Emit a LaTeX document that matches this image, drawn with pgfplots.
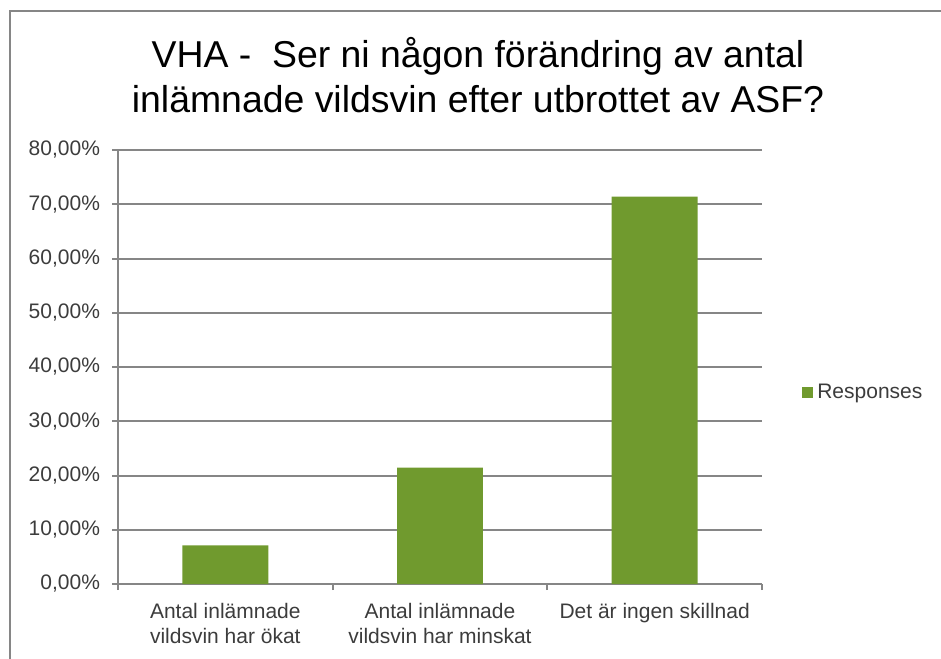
\documentclass[border=0pt]{standalone}
\usepackage{pgfplots}
\pgfplotsset{compat=1.18}
\usepackage{fontspec}
\setmainfont{Liberation Sans}
\definecolor{bargreen}{RGB}{112,154,46}
\definecolor{axisgray}{RGB}{134,134,134}
\definecolor{txtgray}{RGB}{60,60,60}
\begin{document}
\begin{tikzpicture}
\useasboundingbox (0,0) rectangle (470.5pt,329pt);
\draw[axisgray,line width=1pt] (5pt,-5pt) -- (5pt,323.5pt) -- (480pt,323.5pt);
\node[align=center,font=\fontsize{18.7}{22.5}\selectfont,text=black] at (239pt,291.5pt)
  {VHA -\ \ Ser ni någon förändring av antal\\inlämnade vildsvin efter utbrottet av ASF?};
\begin{axis}[
  at={(59pt,37pt)}, anchor=south west,
  scale only axis, width=322pt, height=217pt,
  xmin=-0.5, xmax=2.5, ymin=0, ymax=80,
  axis x line*=bottom, axis y line*=left,
  axis line style={axisgray,line width=1pt},
  ytick={0,10,...,80},
  ymajorgrids,
  grid style={axisgray,line width=1pt},
  xtick={0,1,2},
  xticklabels={{Antal inlämnade\\vildsvin har ökat},{Antal inlämnade\\vildsvin har minskat},{Det är ingen skillnad}},
  minor xtick={-0.5,0.5,1.5,2.5},
  major x tick style={draw=none},
  minor x tick style={axisgray,line width=1pt},
  y tick style={axisgray,line width=1pt},
  tick align=outside,
  major tick length=3pt, minor tick length=3pt,
  xticklabel style={align=center,font=\fontsize{10.5}{12.5}\selectfont,text=txtgray,yshift=-3pt},
  yticklabel style={font=\fontsize{10.5}{12.5}\selectfont,text=txtgray,xshift=-2.5pt},
  yticklabel={\pgfmathprintnumber[fixed,fixed zerofill,precision=2,use comma,assume math mode=true]{\tick}\%},
  ybar, bar width=0.4,
  legend style={at={(1.062,0.441)},anchor=west,draw=none,fill=none,font=\fontsize{10.5}{12.5}\selectfont,text=txtgray,
    legend cell align=left, inner sep=0pt},
  legend image code/.code={\fill[bargreen] (0pt,-2.75pt) rectangle (5.5pt,2.75pt);},
]
\addplot[fill=bargreen,draw=none] coordinates {(0,7.14) (1,21.43) (2,71.43)};
\addlegendentry{Responses}
\end{axis}
\end{tikzpicture}
\end{document}
